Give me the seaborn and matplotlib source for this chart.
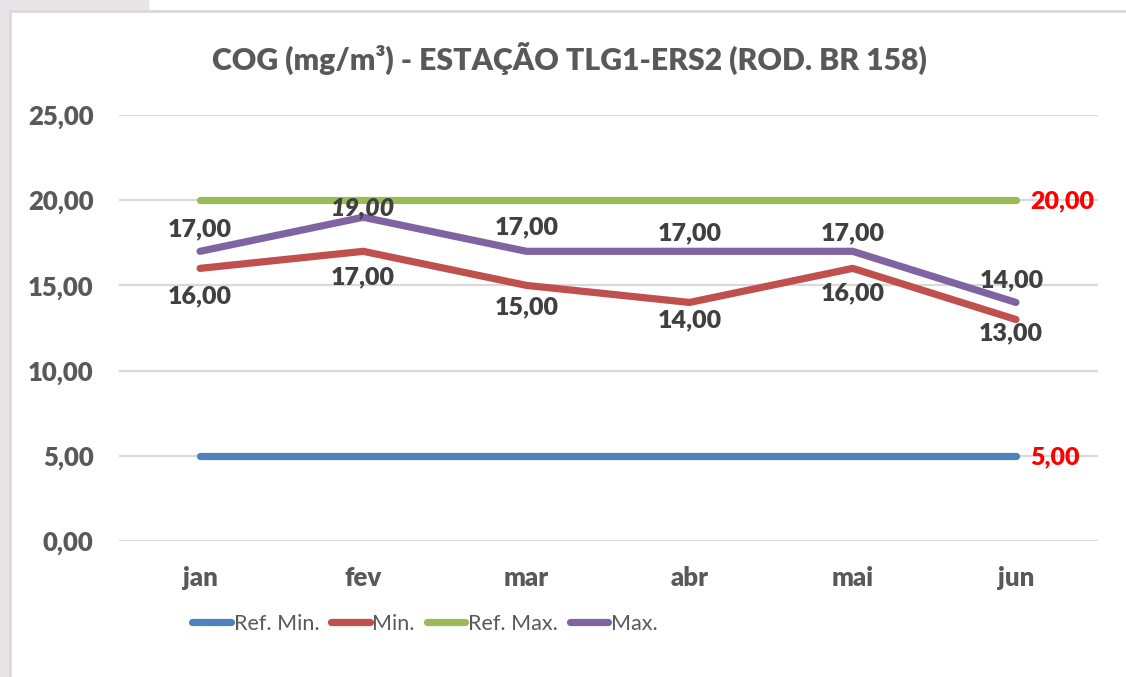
#!/usr/bin/env python3
"""COG (mg/m3) - monthly min/max vs reference limits, station TLG1-ERS2."""

import pandas as pd
import matplotlib.pyplot as plt
import seaborn as sns
from matplotlib.patches import Rectangle
from matplotlib.lines import Line2D

# ----------------------------
# Data
# ----------------------------
meses = ["jan", "fev", "mar", "abr", "mai", "jun"]
ref_min = [5, 5, 5, 5, 5, 5]
minimo = [16, 17, 15, 14, 16, 13]
ref_max = [20, 20, 20, 20, 20, 20]
maximo = [17, 19, 17, 17, 17, 14]
series_names = ["Ref. Min.", "Min.", "Ref. Max.", "Max."]
titulo = "COG (mg/m³) - ESTAÇÃO TLG1-ERS2 (ROD. BR 158)"
y_ticks = [0, 5, 10, 15, 20, 25]

cores = {
    "Ref. Min.": "#4f81bd",
    "Min.": "#c0504d",
    "Ref. Max.": "#9bbb59",
    "Max.": "#8064a2",
}
TXT = "#595959"
LBL = "#404040"
PESO = "heavy"

# label nudges (points) as Excel placed them
off_max = [16, 7, 17, 13, 13, 16]
off_min = [-20, -19, -16, -13, -18, -10]


def fmt(v):
    return f"{v:.2f}".replace(".", ",")


def main():
    sns.set_theme(style="white")
    plt.rcParams["font.family"] = ["Lato", "DejaVu Sans"]

    df = pd.DataFrame({
        "mes": meses * 4,
        "valor": ref_min + minimo + ref_max + maximo,
        "serie": sum([[s] * len(meses) for s in series_names], []),
    })

    fig = plt.figure(figsize=(11.26, 6.77), dpi=100)
    W, H = 1126, 677

    # frame / background bits around the chart
    fig.patches.append(Rectangle((0, 0), 9 / W, 1, transform=fig.transFigure,
                                 color="#e9e4e8", zorder=0))
    fig.patches.append(Rectangle((0, 1 - 10 / H), 148 / W, 10 / H,
                                 transform=fig.transFigure, color="#e9e4e8", zorder=0))
    fig.lines.append(Line2D([9.5 / W, 9.5 / W], [0, 1 - 10.5 / H],
                            transform=fig.transFigure, color="#d9d9d9", lw=2))
    fig.lines.append(Line2D([9.5 / W, 1], [1 - 10.5 / H, 1 - 10.5 / H],
                            transform=fig.transFigure, color="#d9d9d9", lw=2))

    ax = fig.add_axes([118.5 / W, (H - 541) / H, 979 / W, 426 / H])
    sns.lineplot(data=df, x="mes", y="valor", hue="serie", hue_order=series_names,
                 palette=cores, linewidth=5.2, sort=False, ax=ax, legend=False)
    for ln in ax.lines:
        ln.set_solid_capstyle("round")
        ln.set_solid_joinstyle("round")

    ax.set_xlim(-0.5, len(meses) - 0.5)
    ax.set_ylim(0, 25)
    ax.set_yticks(y_ticks)
    ax.set_yticklabels([fmt(v) for v in y_ticks])
    ax.grid(axis="y", color="#d9d9d9", linewidth=1.6)
    ax.set_axisbelow(True)
    for s in ax.spines.values():
        s.set_visible(False)
    ax.tick_params(axis="both", length=0, labelsize=18.5, labelcolor=TXT)
    ax.tick_params(axis="y", pad=18)
    ax.tick_params(axis="x", pad=18)
    for t in ax.get_xticklabels() + ax.get_yticklabels():
        t.set_fontweight(PESO)
    ax.set_xlabel("")
    ax.set_ylabel("")

    # data labels
    lab = dict(fontsize=18, fontweight=PESO, color=LBL, ha="center", va="center")
    for i, v in enumerate(maximo):
        style = "italic" if i == 1 else "normal"
        dx = -3 if i == len(meses) - 1 else 0
        ax.annotate(fmt(v), (i, v), xytext=(dx, off_max[i]), textcoords="offset points",
                    fontstyle=style, **lab)
    for i, v in enumerate(minimo):
        dx = -4 if i == len(meses) - 1 else 0
        ax.annotate(fmt(v), (i, v), xytext=(dx, off_min[i]), textcoords="offset points",
                    **lab)

    last = len(meses) - 1
    for v in (ref_max[-1], ref_min[-1]):
        ax.annotate(fmt(v), (last, v), xytext=(10, -1), textcoords="offset points",
                    fontsize=18, fontweight=PESO, color="#ff0000",
                    ha="left", va="center", annotation_clip=False)

    fig.text(569 / W, 1 - 58 / H, titulo, ha="center", va="center",
             fontsize=21.7, fontweight=PESO, color=TXT)

    handles = [Line2D([], [], color=cores[s], lw=5.2, solid_capstyle="round")
               for s in series_names]
    fig.legend(handles, series_names, loc="center", bbox_to_anchor=(425 / W, 1 - 624 / H),
               ncol=4, frameon=False, fontsize=15.5, labelcolor=TXT,
               handlelength=1.8, handletextpad=0.12, columnspacing=0.55)

    fig.savefig("out.png", dpi=100)


if __name__ == "__main__":
    main()
